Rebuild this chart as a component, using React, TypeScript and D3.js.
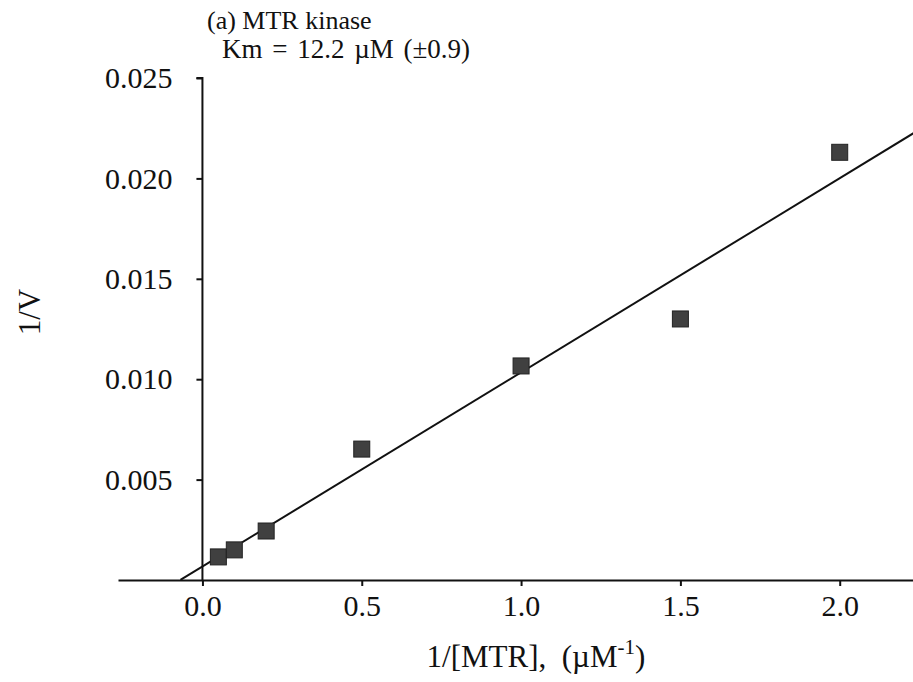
import * as d3 from 'd3';
import {useEffect, useRef} from 'react';

const width = 913;
const height = 682;

// 1/[MTR] (uM^-1) and 1/V
const invS = [0.05, 0.1, 0.2, 0.5, 1.0, 1.5, 2.0];
const invV = [0.00115, 0.0015, 0.00244, 0.00652, 0.01066, 0.013, 0.0213];

// fitted line (as drawn in the figure)
const fitSlope = 0.00967;
const fitIntercept = 0.00067;
const fitXRange = [-0.069, 2.235];

const xTicks = [0, 0.5, 1.0, 1.5, 2.0];
const yTicks = [0.005, 0.01, 0.015, 0.02, 0.025];

const serif = '"Liberation Serif", "DejaVu Serif", serif';

export default function App() {
  const ref = useRef<SVGSVGElement | null>(null);

  useEffect(() => {
    const svg = d3.select(ref.current);
    svg.selectAll('*').remove();

    const x = d3.scaleLinear().domain([-0.265, 2.23]).range([118, 913]);
    const y = d3.scaleLinear().domain([0, 0.025]).range([580, 78]);

    const xAxis = d3
      .axisBottom(x)
      .tickValues(xTicks)
      .tickFormat(d3.format('.1f'))
      .tickSizeInner(6)
      .tickSizeOuter(0)
      .tickPadding(9);
    const yAxis = d3
      .axisLeft(y)
      .tickValues(yTicks)
      .tickFormat(d3.format('.3f'))
      .tickSizeInner(6)
      .tickSizeOuter(0)
      .tickPadding(24);

    const gx = svg.append('g').attr('transform', `translate(0, ${y(0)})`).call(xAxis);
    const gy = svg.append('g').attr('transform', `translate(${x(0)}, 0)`).call(yAxis);
    // y axis should start at the x axis line
    gy.select('.domain').attr('d', `M-6,${y(0.025)}H0V${y(0)}`);

    [gx, gy].forEach(g => {
      g.attr('font-family', null).attr('font-size', null);
      g.selectAll('path, line').attr('stroke', '#111').attr('stroke-width', 2);
      g.selectAll('text')
        .attr('fill', '#111')
        .style('font-family', serif)
        .style('font-size', '30px');
    });

    // regression line
    const line = d3
      .line<number>()
      .x(d => x(d))
      .y(d => y(fitSlope * d + fitIntercept));
    svg
      .append('path')
      .datum(fitXRange)
      .attr('fill', 'none')
      .attr('stroke', '#111')
      .attr('stroke-width', 2)
      .attr('d', line);

    // data points
    const s = 16;
    svg
      .append('g')
      .selectAll('rect')
      .data(invS)
      .join('rect')
      .attr('x', d => x(d) - s / 2)
      .attr('y', (d, i) => y(invV[i]) - s / 2)
      .attr('width', s)
      .attr('height', s)
      .attr('fill', '#404040')
      .attr('stroke', '#222')
      .attr('stroke-width', 1);

    // title / annotation
    const t = svg.append('g').style('font-family', serif).attr('fill', '#111');
    t.append('text').attr('x', 207).attr('y', 29).style('font-size', '26px').text('(a) MTR kinase');
    t.append('text')
      .attr('x', 222)
      .attr('y', 58)
      .style('font-size', '27px')
      .style('word-spacing', '3px')
      .text('Km = 12.2 \u00b5M (\u00b10.9)');

    // axis titles
    const xl = t
      .append('text')
      .attr('x', 536)
      .attr('y', 667)
      .attr('text-anchor', 'middle')
      .style('font-size', '31px');
    xl.append('tspan').text('1/[MTR],\u00a0\u00a0(\u00b5M');
    xl.append('tspan').attr('dy', -13).style('font-size', '21px').text('-1');
    xl.append('tspan').attr('dy', 13).text(')');

    t.append('text')
      .attr('transform', `translate(40, ${312}) rotate(-90)`)
      .attr('text-anchor', 'middle')
      .style('font-size', '31px')
      .text('1/V');
  }, []);

  return (
    <svg
      ref={ref}
      width={width}
      height={height}
      style={{position: 'absolute', left: 0, top: 0, background: '#fff', fontFamily: serif}}
    />
  );
}
